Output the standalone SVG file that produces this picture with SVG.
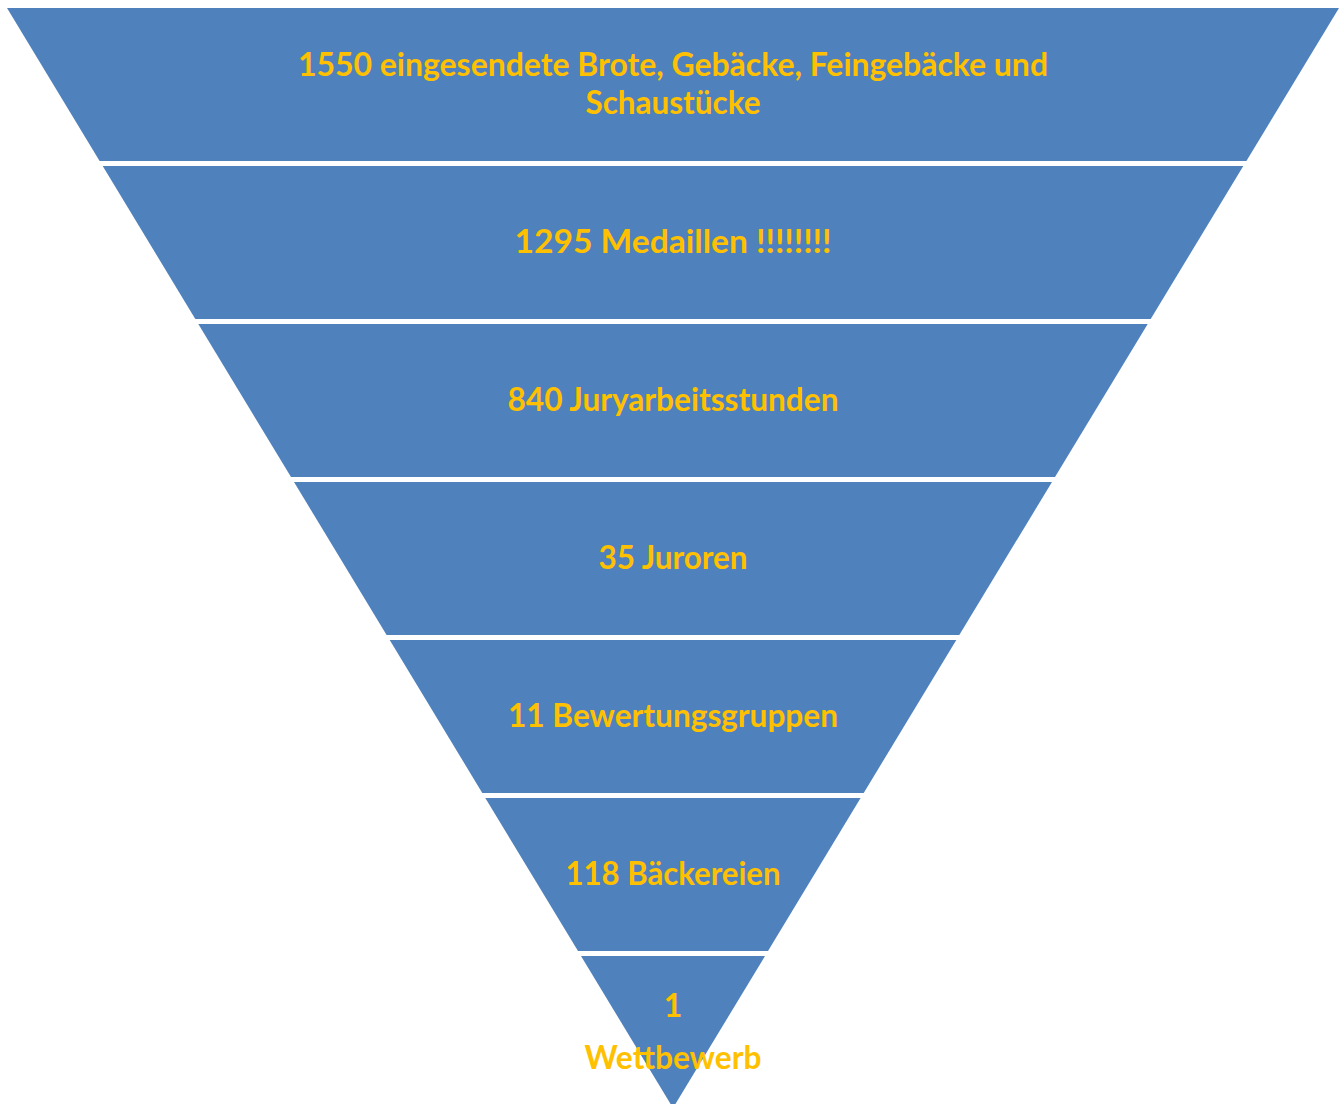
<svg xmlns="http://www.w3.org/2000/svg" width="1344" height="1104" viewBox="0 0 1344 1104">
<style>
.s{fill:#4F81BD;}
.t{fill:#FFC000;font-family:Lato,"Open Sans","Liberation Sans",sans-serif;font-weight:bold;font-size:32px;text-anchor:middle;}
</style>
<rect width="1344" height="1104" fill="#FFFFFF"/>
<g id="level1">
<polygon class="s" points="7,8 1339,8 1246.4,161 99.6,161"/>
<text class="t" x="673" y="76" textLength="750" lengthAdjust="spacingAndGlyphs">1550 eingesendete Brote, Gebäcke, Feingebäcke und</text>
<text class="t" x="673" y="114" textLength="175" lengthAdjust="spacingAndGlyphs">Schaustücke</text>
</g>
<g id="level2">
<polygon class="s" points="102.7,166 1243.3,166 1150.7,319 195.3,319"/>
<text class="t" x="673" y="253" textLength="317" lengthAdjust="spacingAndGlyphs">1295 Medaillen !!!!!!!!</text>
</g>
<g id="level3">
<polygon class="s" points="198.3,324 1147.7,324 1055,477 291,477"/>
<text class="t" x="673" y="411" textLength="331" lengthAdjust="spacingAndGlyphs">840 Juryarbeitsstunden</text>
</g>
<g id="level4">
<polygon class="s" points="294,482 1052,482 959.3,635 386.6,635"/>
<text class="t" x="673" y="569" textLength="149" lengthAdjust="spacingAndGlyphs">35 Juroren</text>
</g>
<g id="level5">
<polygon class="s" points="389.7,640 956.3,640 863.7,793 482.3,793"/>
<text class="t" x="673" y="727" textLength="330" lengthAdjust="spacingAndGlyphs">11 Bewertungsgruppen</text>
</g>
<g id="level6">
<polygon class="s" points="485.3,798 860.6,798 768,951 578,951"/>
<text class="t" x="673" y="885" textLength="215" lengthAdjust="spacingAndGlyphs">118 Bäckereien</text>
</g>
<g id="level7">
<polygon class="s" points="581,956 765,956 673,1108"/>
<text class="t" x="673" y="1017">1</text>
<text class="t" x="673" y="1069" textLength="177" lengthAdjust="spacingAndGlyphs">Wettbewerb</text>
</g>
<g id="connectors"></g>
</svg>
